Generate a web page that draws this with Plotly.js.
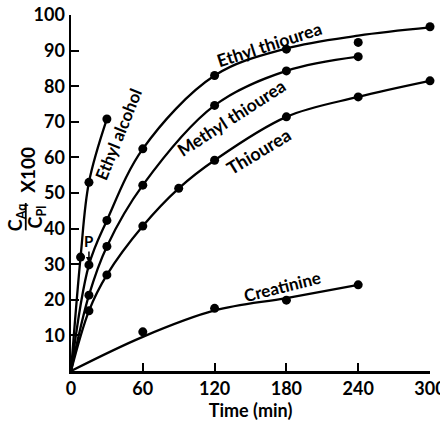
<!DOCTYPE html>
<html>
<head>
<meta charset="utf-8">
<script src="https://cdn.plot.ly/plotly-3.0.1.min.js"></script>
<style>html,body{margin:0;padding:0;background:#fff;}#chart{width:440px;height:422px;}</style>
</head>
<body>
<div id="chart"></div>
<script>
// ---- data ----
const xTicks = [0, 60, 120, 180, 240, 300];
const yTicks = [10, 20, 30, 40, 50, 60, 70, 80, 90, 100];

const alcoholT = [8, 15, 30];
const alcoholV = [32, 53, 70.8];
const alcoholCurveT = [0, 8, 15, 30];
const alcoholCurveV = [0, 32, 53, 70.8];

const ethylT = [15, 30, 60, 120, 180, 240, 300];
const ethylV = [29.8, 42.3, 62.4, 83, 90.4, 92.3, 96.7];
const ethylCurveT = [0, 15, 30, 60, 120, 180, 240, 300];
const ethylCurveV = [0, 29.8, 42.3, 62.4, 83, 90.6, 94.2, 96.5];

const methylT = [15, 30, 60, 120, 180, 240];
const methylV = [21.3, 35, 52.2, 74.6, 84.3, 88.3];
const methylCurveT = [0, 15, 30, 60, 120, 180, 240];
const methylCurveV = [0, 21.3, 35, 52.2, 74.6, 84.3, 88.3];

const thioT = [15, 30, 60, 90, 120, 180, 240, 300];
const thioV = [16.9, 27, 40.7, 51.3, 59.2, 71.4, 77, 81.5];
const thioCurveT = [0, 15, 30, 60, 90, 120, 180, 240, 300];
const thioCurveV = [0, 16.9, 27, 40.7, 51.3, 59.2, 71.4, 77, 81.5];

const creatT = [60, 120, 180, 240];
const creatV = [11, 17.6, 19.9, 24.2];
const creatCurveT = [0, 60, 120, 180, 240];
const creatCurveV = [0, 9.6, 17, 20.5, 24.2];

const seriesNames = ["Ethyl alcohol", "Ethyl thiourea", "Methyl thiourea", "Thiourea", "Creatinine"];

// ---- drawing ----
const FONT = "Lato, 'Open Sans', 'DejaVu Sans', sans-serif";
function curve(t, v) {
  return {x: t, y: v, mode: "lines", type: "scatter", line: {color: "#000", width: 2.3, shape: "spline", smoothing: 1}, hoverinfo: "skip", cliponaxis: false};
}
function pts(t, v) {
  return {x: t, y: v, mode: "markers", type: "scatter", marker: {color: "#000", size: 9}, cliponaxis: false};
}
const traces = [
  curve(alcoholCurveT, alcoholCurveV), pts(alcoholT, alcoholV),
  curve(ethylCurveT, ethylCurveV), pts(ethylT, ethylV),
  curve(methylCurveT, methylCurveV), pts(methylT, methylV),
  curve(thioCurveT, thioCurveV), pts(thioT, thioV),
  curve(creatCurveT, creatCurveV), pts(creatT, creatV)
];

function lab(text, x, y, angle, size) {
  return {text: text, x: x, y: y, xref: "x", yref: "y", showarrow: false, textangle: angle,
          font: {family: FONT, size: size || 17, color: "#000", weight: "bold"}};
}
function paperLab(text, x, y, angle, size) {
  return {text: text, x: x, y: y, xref: "paper", yref: "paper", showarrow: false, textangle: angle,
          xanchor: "center", yanchor: "middle",
          font: {family: FONT, size: size, color: "#000", weight: "bold"}};
}

const annotations = [
  lab(seriesNames[0], 40, 66.6, -68, 17),
  lab(seriesNames[1], 166, 91.6, -18, 17.5),
  lab(seriesNames[2], 134.5, 71.2, -33, 17.5),
  lab(seriesNames[3], 157, 61.8, -31, 18),
  lab(seriesNames[4], 176, 23.8, -14, 17),
  {text: "P", x: ethylT[0], y: ethylV[0], xref: "x", yref: "y", showarrow: true, ax: 0, ay: -24,
   arrowhead: 2, arrowsize: 0.8, arrowwidth: 1.5, arrowcolor: "#000", standoff: 2,
   font: {family: FONT, size: 15, color: "#000", weight: "bold"}},
  paperLab("X100", -0.12, 0.565, -90, 19),
  paperLab("C<sub>Aq</sub>", -0.153, 0.432, -90, 18),
  paperLab("C<sub>Pl</sub>", -0.097, 0.432, -90, 18)
];

const layout = {
  width: 440, height: 422,
  margin: {l: 71, r: 10, t: 15, b: 51},
  paper_bgcolor: "#fff", plot_bgcolor: "#fff",
  showlegend: false,
  font: {family: FONT, color: "#000"},
  xaxis: {
    range: [0, 300], tickvals: xTicks, ticktext: xTicks.map(String),
    showgrid: false, zeroline: false, showline: true, linecolor: "#000", linewidth: 2.5,
    ticks: "inside", ticklen: 8, tickwidth: 2, tickcolor: "#000",
    ticklabeloverflow: "allow",
    tickfont: {family: FONT, size: 18, color: "#000", weight: "bold"},
    title: {text: "Time (min)", font: {family: FONT, size: 18, color: "#000", weight: "bold"}, standoff: 2},
    fixedrange: true
  },
  yaxis: {
    range: [0, 100], tickvals: yTicks, ticktext: yTicks.map(String),
    showgrid: false, zeroline: false, showline: true, linecolor: "#000", linewidth: 2.5,
    ticks: "inside", ticklen: 8, tickwidth: 2, tickcolor: "#000",
    tickfont: {family: FONT, size: 18, color: "#000", weight: "bold"},
    fixedrange: true
  },
  shapes: [
    {type: "line", xref: "paper", yref: "paper", x0: -0.126, x1: -0.126, y0: 0.395, y1: 0.472,
     line: {color: "#000", width: 1.8}}
  ],
  annotations: annotations
};

Plotly.newPlot("chart", traces, layout, {displayModeBar: false, staticPlot: true});
</script>
</body>
</html>
